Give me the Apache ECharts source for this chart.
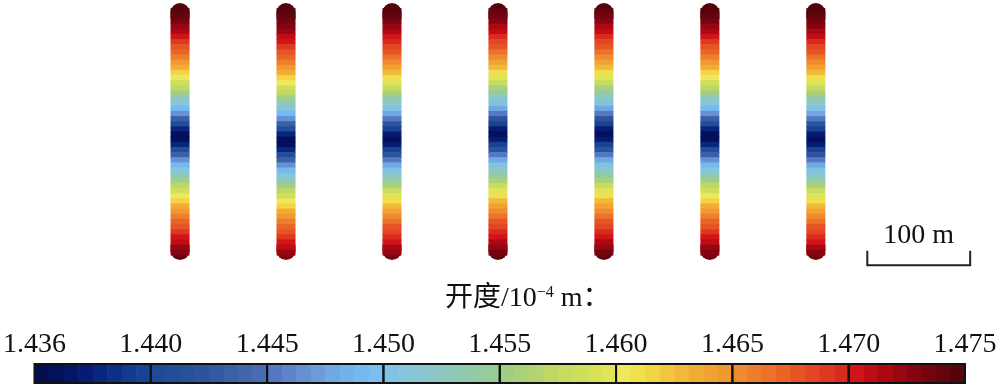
<!DOCTYPE html>
<html><head><meta charset="utf-8">
<script src="https://cdn.jsdelivr.net/npm/echarts@6/dist/echarts.min.js"></script>
<style>html,body{margin:0;padding:0;background:#fff}#c{width:1000px;height:385px}</style>
</head><body><div id="c"></div>
<script>
// ---- data ----
const tickValues = [1.436, 1.440, 1.445, 1.450, 1.455, 1.460, 1.465, 1.470, 1.475];
const tickLabels = ['1.436', '1.440', '1.445', '1.450', '1.455', '1.460', '1.465', '1.470', '1.475'];
const fracturePositions = [0, 103, 206, 309, 412, 515, 618]; // m
const fractureTopY = 125;   // m
const cellSize = 5;         // m, sampling step along each fracture (top -> bottom)

const F1 = [1.4750,1.4746,1.4740,1.4733,1.4724,1.4713,1.4702,1.4691,1.4681,1.4670,1.4658,1.4646,1.4633,1.4618,1.4603,1.4587,1.4569,1.4550,1.4530,1.4510,1.4488,1.4463,1.4435,1.4407,1.4384,1.4368,
            1.4368,1.4384,1.4407,1.4435,1.4463,1.4488,1.4510,1.4530,1.4550,1.4569,1.4587,1.4603,1.4618,1.4633,1.4646,1.4658,1.4670,1.4681,1.4691,1.4701,1.4712,1.4722,1.4731,1.4740];
const F2 = [1.4750,1.4747,1.4742,1.4736,1.4729,1.4720,1.4711,1.4701,1.4691,1.4681,1.4670,1.4658,1.4646,1.4633,1.4618,1.4603,1.4587,1.4569,1.4550,1.4530,1.4510,1.4488,1.4463,1.4435,1.4407,1.4384,1.4368,
            1.4368,1.4384,1.4407,1.4435,1.4463,1.4488,1.4510,1.4530,1.4550,1.4569,1.4587,1.4603,1.4618,1.4633,1.4646,1.4658,1.4670,1.4681,1.4691,1.4701,1.4712,1.4722,1.4731];
const F3 = [1.4750,1.4746,1.4740,1.4733,1.4725,1.4716,1.4706,1.4696,1.4686,1.4675,1.4664,1.4652,1.4640,1.4625,1.4610,1.4595,1.4578,1.4560,1.4540,1.4520,1.4500,1.4475,1.4450,1.4420,1.4395,1.4375,1.4365,
            1.4375,1.4395,1.4420,1.4450,1.4475,1.4500,1.4520,1.4540,1.4560,1.4578,1.4595,1.4610,1.4625,1.4640,1.4652,1.4664,1.4675,1.4686,1.4696,1.4705,1.4714,1.4723,1.4732];
const F4 = [1.4749,1.4743,1.4736,1.4728,1.4718,1.4707,1.4696,1.4686,1.4675,1.4664,1.4652,1.4640,1.4625,1.4610,1.4595,1.4578,1.4560,1.4540,1.4520,1.4500,1.4475,1.4450,1.4420,1.4395,1.4375,1.4365,
            1.4375,1.4395,1.4420,1.4450,1.4475,1.4500,1.4520,1.4540,1.4560,1.4578,1.4595,1.4610,1.4625,1.4640,1.4652,1.4664,1.4675,1.4686,1.4696,1.4705,1.4714,1.4723,1.4732,1.4740];
const F5 = [1.4749,1.4743,1.4736,1.4728,1.4718,1.4707,1.4696,1.4686,1.4675,1.4664,1.4652,1.4640,1.4625,1.4610,1.4595,1.4578,1.4560,1.4540,1.4520,1.4500,1.4475,1.4450,1.4420,1.4395,1.4375,1.4365,
            1.4375,1.4395,1.4420,1.4450,1.4475,1.4500,1.4520,1.4540,1.4560,1.4578,1.4595,1.4610,1.4625,1.4640,1.4652,1.4664,1.4675,1.4686,1.4696,1.4705,1.4714,1.4723,1.4732,1.4740];
const F6 = [1.4750,1.4746,1.4740,1.4733,1.4724,1.4713,1.4702,1.4691,1.4681,1.4670,1.4658,1.4646,1.4633,1.4618,1.4603,1.4587,1.4569,1.4550,1.4530,1.4510,1.4488,1.4463,1.4435,1.4407,1.4384,1.4368,
            1.4368,1.4384,1.4407,1.4435,1.4463,1.4488,1.4510,1.4530,1.4550,1.4569,1.4587,1.4603,1.4618,1.4633,1.4646,1.4658,1.4670,1.4681,1.4691,1.4701,1.4711,1.4720,1.4729,1.4737];
const F7 = [1.4750,1.4748,1.4743,1.4736,1.4728,1.4718,1.4707,1.4696,1.4686,1.4675,1.4664,1.4652,1.4640,1.4625,1.4610,1.4595,1.4578,1.4560,1.4540,1.4520,1.4500,1.4475,1.4450,1.4420,1.4395,1.4375,1.4365,
            1.4375,1.4395,1.4420,1.4450,1.4475,1.4500,1.4520,1.4540,1.4560,1.4578,1.4595,1.4610,1.4625,1.4640,1.4652,1.4664,1.4675,1.4686,1.4696,1.4706,1.4716,1.4726,1.4736];
const fractureValues = [F1, F2, F3, F4, F5, F6, F7];

const titleText = '开度/10';
const titleSup = '−4';
const titleUnit = ' m：';
const scaleBarLength = 100; // m
const scaleBarLabel = '100 m';

// ---- styles ----
const palette = [
 '#020d4c','#03105a','#041566','#061c74','#08257f','#0c2f88','#123a8e','#184392',
 '#1f4a96','#234d98','#27509a','#2c549d','#325aa2','#3a60a8','#4166ae','#486cb4',
 '#5578c4','#5e84cb','#6690d2','#6d9cd8','#70a8e0','#72b2ea','#74baf0','#7abff0',
 '#80c2e4','#86c5dc','#8ac6d2','#8cc7c8','#8ec8bc','#90c9b0','#94caa4','#98cc98',
 '#a2ce84','#aad17a','#b4d470','#bed868','#c8dc60','#d0df5a','#d8e256','#e0e458',
 '#eee85c','#f0e050','#f2d444','#f2c63e','#f2b83a','#f2ac36','#f2a232','#f29830',
 '#f08a30','#ee7e2e','#ec722c','#ea6428','#e65424','#e24622','#de3820','#da2a1e',
 '#d0141a','#c00c14','#ac0812','#980612','#860412','#740410','#64040e','#56040c'
];
const SERIF = '"Liberation Serif", "Times New Roman", "Noto Sans CJK SC", serif';
const fractureWidthPx = 19;
const scaleBarPos = {x: 668, y: -130, tickTop: -116, textY: -101};

// ---- build ----
const bandsPerSeg = 8;
const pieces = [];
const colorbarData = [];
for (let s = 0; s < tickValues.length - 1; s++) {
  const lo = tickValues[s], hi = tickValues[s + 1];
  for (let j = 0; j < bandsPerSeg; j++) {
    const a = lo + (hi - lo) * j / bandsPerSeg, b = lo + (hi - lo) * (j + 1) / bandsPerSeg;
    pieces.push({gte: a, lt: b, color: palette[s * bandsPerSeg + j]});
    colorbarData.push([s + j / bandsPerSeg, s + (j + 1) / bandsPerSeg, (a + b) / 2]);
  }
}
pieces[0].gte = 0;
pieces[pieces.length - 1].lt = 10;

const fractureData = [];
fractureValues.forEach((arr, f) => {
  arr.forEach((v, i) => {
    fractureData.push([fracturePositions[f], fractureTopY - i * cellSize, v, i, arr.length]);
  });
});
const segData = [];
for (let s = 0; s < tickValues.length - 1; s++) segData.push([s, s + 1]);

const chart = echarts.init(document.getElementById('c'), null, {renderer: 'canvas'});
chart.setOption({
  animation: false,
  backgroundColor: '#fff',
  title: {
    text: '{a|' + titleText + '}{s|' + titleSup + '}{a|' + titleUnit + '}',
    left: 445, top: 285, padding: 0,
    textStyle: {
      rich: {
        a: {fontSize: 28, fontFamily: SERIF, color: '#111', fontWeight: 'normal'},
        s: {fontSize: 16, fontFamily: SERIF, color: '#111', verticalAlign: 'top', fontWeight: 'normal'}
      }
    }
  },
  grid: [
    {left: 0, right: 0, top: 3, bottom: 114.7},
    {left: 34, right: 35, top: 364, height: 19}
  ],
  xAxis: [
    {gridIndex: 0, type: 'value', min: -175, max: 797, show: false},
    {gridIndex: 1, type: 'value', min: 0, max: 8, interval: 1, position: 'top',
     axisLine: {show: false}, axisTick: {show: false}, splitLine: {show: false},
     axisLabel: {formatter: v => tickLabels[Math.round(v)], fontSize: 28, fontFamily: SERIF, color: '#111', margin: 5,
                 showMinLabel: true, showMaxLabel: true}}
  ],
  yAxis: [
    {gridIndex: 0, type: 'value', min: -135, max: 125, show: false},
    {gridIndex: 1, type: 'value', min: 0, max: 1, show: false}
  ],
  visualMap: {
    type: 'piecewise', show: false, dimension: 2, seriesIndex: [0, 1], pieces: pieces
  },
  series: [
    {
      type: 'custom', xAxisIndex: 0, yAxisIndex: 0, data: fractureData,
      renderItem(params, api) {
        const x = api.value(0), y = api.value(1), idx = api.value(3), n = api.value(4);
        const p0 = api.coord([x, y]);
        const p1 = api.coord([x, y - cellSize]);
        const w = fractureWidthPx;
        let top = p0[1], h = p1[1] - p0[1] + 0.7, r = 0, z2 = 1;
        if (idx === 0) { h += 10; r = [w / 2, w / 2, 0, 0]; z2 = 0; }
        else if (idx === n - 1) { top -= 10; h = p1[1] - p0[1] + 10; r = [0, 0, w / 2, w / 2]; z2 = 0; }
        return {type: 'rect', z2: z2, shape: {x: p0[0] - w / 2, y: top, width: w, height: h, r: r},
                style: {fill: api.visual('color')}};
      }
    },
    {
      type: 'custom', xAxisIndex: 1, yAxisIndex: 1, data: colorbarData,
      renderItem(params, api) {
        const a = api.coord([api.value(0), 1]);
        const b = api.coord([api.value(1), 0]);
        return {type: 'rect', shape: {x: a[0], y: a[1], width: b[0] - a[0] + 0.6, height: b[1] - a[1]},
                style: {fill: api.visual('color')}};
      }
    },
    {
      type: 'custom', xAxisIndex: 1, yAxisIndex: 1, data: segData, z: 3,
      renderItem(params, api) {
        const a = api.coord([api.value(0), 1]);
        const b = api.coord([api.value(1), 0]);
        return {type: 'rect', shape: {x: a[0], y: a[1], width: b[0] - a[0], height: b[1] - a[1]},
                style: {fill: 'none', stroke: '#111', lineWidth: 2}};
      }
    },
    {
      type: 'custom', xAxisIndex: 0, yAxisIndex: 0, data: [[scaleBarPos.x, scaleBarPos.y, scaleBarLength]],
      renderItem(params, api) {
        const x0 = api.value(0), y0 = api.value(1), L = api.value(2);
        const pA = api.coord([x0, scaleBarPos.tickTop]);
        const pB = api.coord([x0, y0]);
        const pC = api.coord([x0 + L, y0]);
        const pD = api.coord([x0 + L, scaleBarPos.tickTop]);
        const pT = api.coord([x0 + L / 2, scaleBarPos.textY]);
        return {type: 'group', children: [
          {type: 'polyline', shape: {points: [pA, pB, pC, pD]}, style: {stroke: '#222', lineWidth: 2, fill: 'none'}},
          {type: 'text', x: pT[0], y: pT[1], style: {text: scaleBarLabel, font: '28px ' + SERIF, fill: '#111', align: 'center', verticalAlign: 'middle'}}
        ]};
      }
    }
  ]
});
</script>
</body></html>
